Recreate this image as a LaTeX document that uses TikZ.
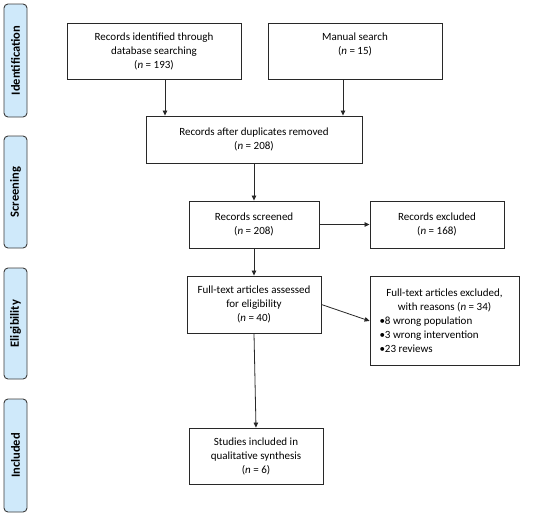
\documentclass[tikz,border=0pt]{standalone}
\usepackage{fontspec}
\setmainfont{Carlito}
\usetikzlibrary{arrows.meta}
\definecolor{sidefill}{RGB}{207,233,250}
\definecolor{sidedraw}{RGB}{60,60,60}
\definecolor{boxdraw}{RGB}{40,40,40}
\begin{document}
\begin{tikzpicture}[x=1pt,y=-1pt,
  flowbox/.style={draw=boxdraw,line width=0.9pt,rectangle,align=center,inner sep=2pt,
    font=\fontsize{11}{14}\selectfont},
  sidebox/.style={draw=sidedraw,fill=sidefill,line width=0.9pt,rounded corners=4pt,
    minimum width=23pt,inner sep=0pt},
  sidetext/.style={rotate=90,font=\fontsize{12.5}{13}\selectfont\bfseries},
  arr/.style={draw=boxdraw,line width=0.8pt,-{Triangle[length=5pt,width=4.5pt]}}]
\useasboundingbox (0,0) rectangle (550,515);
\fill[white] (0,0) rectangle (550,515);
% side labels
\node[sidebox,minimum height=113pt] (sid) at (15.5,60.5) {};
\node[sidetext] (sidt) at (sid.center) {Identification};
\node[sidebox,minimum height=112pt] (sscr) at (15.5,192) {};
\node[sidetext] (sscrt) at (sscr.center) {Screening};
\node[sidebox,minimum height=111pt] (selig) at (15.5,323.5) {};
\node[sidetext] (seligt) at (selig.center) {Eligibility};
\node[sidebox,minimum height=113pt] (sinc) at (15.5,455.5) {};
\node[sidetext] (sinct) at (sinc.center) {Included};
% boxes
\node[flowbox,minimum width=174pt,minimum height=56pt] (db) at (154,51)
  {Records identified through\\database searching\\(\textit{n} = 193)};
\node[flowbox,minimum width=174pt,minimum height=56pt] (man) at (355,51)
  {Manual search\\(\textit{n} = 15)\\~};
\node[flowbox,minimum width=216pt,minimum height=47pt] (dup) at (254,139.5)
  {Records after duplicates removed\\(\textit{n} = 208)};
\node[flowbox,minimum width=130pt,minimum height=47pt] (scr) at (254,224.5)
  {Records screened\\(\textit{n} = 208)};
\node[flowbox,minimum width=134pt,minimum height=47pt] (exc) at (437,224.5)
  {Records excluded\\(\textit{n} = 168)};
\node[flowbox,minimum width=134pt,minimum height=57pt] (ft) at (254,304.5)
  {Full-text articles assessed\\for eligibility\\(\textit{n} = 40)};
\node[flowbox,minimum width=149pt,minimum height=89pt,anchor=north] (ftx) at (444.5,276)
  {\begin{minipage}[t]{140pt}\centering
   Full-text articles excluded,\\with reasons (\textit{n} = 34)\par
   \raggedright\hspace*{5pt}•8 wrong population\\\hspace*{5pt}•3 wrong intervention\\\hspace*{5pt}•23 reviews\par
   \end{minipage}};
\node[flowbox,minimum width=134pt,minimum height=56pt] (inc) at (256,456)
  {Studies included in\\qualitative synthesis\\(\textit{n} = 6)};
% connectors
\draw[arr] ([xshift=11pt]db.south) -- ([xshift=11pt]db.south |- dup.north);
\draw[arr] ([xshift=-12pt]man.south) -- ([xshift=-12pt]man.south |- dup.north);
\draw[arr] (dup.south) -- (scr.north);
\draw[arr] (scr.east) -- (exc.west);
\draw[arr] (scr.south) -- (ft.north);
\draw[arr] (ft.east) -- (ftx.west);
\draw[arr] (ft.south) -- (inc.north);
\end{tikzpicture}
\end{document}
